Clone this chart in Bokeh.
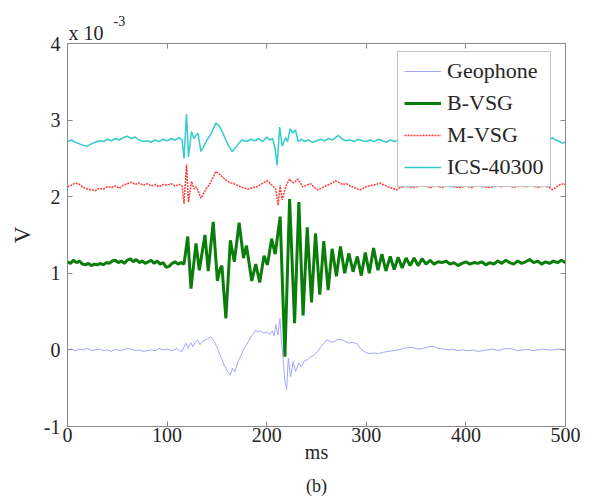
from bokeh.plotting import figure
from bokeh.models import Range1d, LinearAxis, FixedTicker, Legend, LegendItem, Title
from bokeh.embed import file_html
from bokeh.resources import INLINE

# ---- data (ms, V x 1e-3) ----
geo_t = [0, 4, 8, 12, 16, 20, 24, 28, 32, 36, 40, 44, 48, 52, 56, 60, 64, 68, 72, 76, 80, 84, 88, 92, 96, 100,
         104, 107, 110, 112, 115, 117, 119, 121, 124, 126, 128, 130.7, 133, 136, 139, 142, 144, 147.3, 150, 152.3,
         155, 157.3, 160.7, 163.3, 165.7, 168, 170.7, 174, 177.3, 180, 184, 186.5, 189, 191, 194, 197, 200.7, 203,
         205.7, 207.5, 209, 211.3, 213.3, 214.7, 216.7, 218, 220, 221.7, 224, 226.7, 229, 232.3, 235, 238, 240.7,
         244, 247.3, 251, 254, 257, 260.3, 264, 267.3, 271, 275.7, 279, 282.3, 286, 290.7, 294, 299, 303, 307.3,
         312, 317.3, 322, 327.3, 332, 337.3, 342, 347.3, 352, 357.3, 362, 367.3, 372, 377.3, 382, 387.3, 392,
         397.3, 402, 407.3, 412, 417.3, 422, 427.3, 432, 437.3, 442, 447.3, 452, 457.3, 462, 467.3, 472, 477.3,
         482, 487.3, 492, 497.3, 500]
geo_v = [0.00, 0.01, -0.01, 0.01, 0.00, 0.02, -0.01, 0.00, 0.01, -0.01, 0.00, -0.02, 0.01, -0.01, 0.00, 0.02,
         0.01, -0.01, 0.00, -0.02, -0.01, 0.00, -0.01, 0.02, 0.00, 0.01, -0.01, 0.00, 0.02, -0.01, -0.02, 0.04,
         0.09, 0.02, 0.09, 0.04, 0.10, 0.13, 0.07, 0.12, 0.13, 0.16, 0.17, 0.11, 0.04, -0.04, -0.12, -0.20, -0.28,
         -0.33, -0.24, -0.29, -0.17, -0.08, 0.02, 0.07, 0.17, 0.21, 0.26, 0.23, 0.25, 0.22, 0.23, 0.20, 0.25, 0.18,
         0.33, 0.20, 0.41, 0.13, -0.13, -0.39, -0.52, -0.11, -0.35, -0.15, -0.28, -0.17, -0.22, -0.14, -0.13,
         -0.09, -0.07, -0.02, 0.03, 0.08, 0.13, 0.11, 0.10, 0.14, 0.13, 0.11, 0.09, 0.10, 0.08, 0.02, -0.03,
         -0.05, -0.04, -0.05, -0.03, -0.02, -0.01, 0.00, 0.02, 0.03, 0.03, 0.01, 0.02, 0.04, 0.05, 0.02, 0.01,
         0.00, 0.01, -0.01, 0.00, -0.01, 0.00, -0.02, -0.01, 0.00, 0.01, -0.01, 0.01, 0.02, 0.01, -0.01, 0.00,
         0.01, -0.01, 0.00, 0.01, 0.00, 0.00, 0.01, 0.00, 0.00]

bvsg_t = [0, 3, 6, 9, 12, 15, 18, 21, 24, 27, 30, 33, 36, 39, 42, 45, 48, 51, 54, 57, 60, 63, 66, 69, 72, 75,
          78, 81, 84, 87, 90, 93, 96, 99, 102, 105, 108, 111, 114, 117, 120.7, 124, 129, 132.3, 138, 141.3, 146.3,
          150.5, 153, 155, 159, 163.5, 167.5, 172.3, 176.7, 179.7, 185, 189, 193, 197.3, 200.7, 205, 208.5, 213.5,
          218.3, 223, 228, 232.3, 236.5, 240.7, 245, 249, 253.3, 257.3, 261.7, 265.7, 270, 274, 278.3, 282.5,
          286.7, 291, 295, 299, 303, 307.3, 311.7, 315.7, 319.7, 324, 328, 332, 336, 340, 344, 348, 352, 356,
          360, 364, 368, 372, 376, 380, 384, 388, 392, 396, 400, 404, 408, 412, 416, 420, 424, 428, 432, 436,
          440, 444, 448, 452, 456, 460, 464, 468, 472, 476, 480, 484, 488, 492, 496, 500]
bvsg_v = [1.15, 1.13, 1.17, 1.14, 1.16, 1.12, 1.11, 1.13, 1.10, 1.12, 1.11, 1.13, 1.11, 1.14, 1.13, 1.16, 1.17,
          1.14, 1.16, 1.13, 1.17, 1.19, 1.15, 1.18, 1.14, 1.16, 1.13, 1.15, 1.17, 1.13, 1.16, 1.12, 1.14, 1.08,
          1.09, 1.13, 1.15, 1.12, 1.14, 1.12, 1.48, 0.80, 1.39, 1.04, 1.50, 1.03, 1.67, 0.90, 1.05, 1.10, 0.41,
          1.43, 1.15, 1.66, 1.20, 1.36, 0.90, 1.12, 0.88, 1.23, 1.11, 1.45, 1.25, 1.74, -0.09, 1.97, 0.35, 1.93,
          0.45, 1.60, 0.62, 1.52, 0.72, 1.42, 0.78, 1.32, 0.96, 1.35, 1.00, 1.26, 1.02, 1.22, 0.97, 1.27, 1.00,
          1.33, 1.04, 1.25, 1.03, 1.22, 1.05, 1.21, 1.07, 1.20, 1.10, 1.20, 1.10, 1.19, 1.12, 1.17, 1.12, 1.15,
          1.14, 1.16, 1.12, 1.14, 1.10, 1.13, 1.15, 1.12, 1.14, 1.13, 1.15, 1.11, 1.14, 1.12, 1.16, 1.13, 1.17,
          1.14, 1.12, 1.16, 1.13, 1.15, 1.18, 1.14, 1.16, 1.12, 1.15, 1.13, 1.16, 1.14, 1.17, 1.14]

mvsg_t = [0, 4, 8, 12, 16, 20, 24, 28, 32, 36, 40, 44, 48, 52, 56, 60, 64, 68, 72, 76, 80, 84, 88, 92, 96, 100,
          104, 108, 112, 115, 117, 119.5, 121.5, 124.5, 127, 129, 131, 134, 136.5, 139, 142, 145, 149, 152, 154,
          157, 160.5, 164, 167, 170, 174, 178, 182, 186, 190, 194, 198, 200, 203, 206, 209, 211.5, 213.5, 215.5,
          218, 220, 223, 225, 227, 229, 231, 234, 236, 240, 244, 248, 251, 255, 259, 263, 266, 269, 272, 276, 280,
          284, 288, 291, 294, 298, 302, 306, 310, 314, 318, 322, 326, 330.7, 334, 340, 346, 352, 358, 364, 370,
          376, 382, 388, 394, 400, 406, 412, 418, 424, 430, 436, 442, 448, 454, 460, 466, 472, 478, 484, 487, 491,
          495, 498, 500]
mvsg_v = [2.13, 2.15, 2.18, 2.16, 2.12, 2.10, 2.09, 2.08, 2.11, 2.10, 2.13, 2.12, 2.14, 2.11, 2.15, 2.17, 2.19,
          2.16, 2.18, 2.15, 2.17, 2.14, 2.16, 2.13, 2.16, 2.15, 2.17, 2.14, 2.16, 2.14, 1.91, 2.42, 1.93, 2.20,
          2.10, 2.13, 2.08, 1.98, 2.04, 2.10, 2.15, 2.22, 2.33, 2.30, 2.28, 2.24, 2.20, 2.18, 2.17, 2.15, 2.13,
          2.11, 2.10, 2.12, 2.13, 2.16, 2.19, 2.21, 2.18, 2.14, 2.10, 1.89, 2.15, 1.96, 2.08, 2.16, 2.23, 2.20,
          2.18, 2.20, 2.23, 2.18, 2.13, 2.15, 2.17, 2.12, 2.09, 2.11, 2.14, 2.16, 2.18, 2.21, 2.19, 2.16, 2.17,
          2.14, 2.12, 2.10, 2.09, 2.12, 2.14, 2.15, 2.16, 2.18, 2.15, 2.13, 2.11, 2.09, 2.12, 2.14, 2.12, 2.13,
          2.15, 2.12, 2.14, 2.12, 2.15, 2.13, 2.12, 2.14, 2.12, 2.15, 2.13, 2.12, 2.14, 2.13, 2.15, 2.12, 2.14,
          2.13, 2.15, 2.12, 2.14, 2.12, 2.09, 2.13, 2.16, 2.17, 2.16]

ics_t = [0, 4, 8, 12, 16, 20, 24, 28, 32, 36, 40, 44, 48, 52, 56, 60, 64, 68, 72, 76, 80, 84, 88, 92, 96, 100,
         104, 108, 112, 115, 117, 119.5, 121.5, 124.5, 127, 129, 131, 134, 137, 140, 144, 149, 152, 155, 159, 162,
         165.5, 168, 171, 175, 180, 184, 188, 192, 196, 200, 203, 206, 208.5, 210.5, 213, 215.5, 219, 221, 223.5,
         226, 229, 231.5, 235, 238, 242, 246, 250, 254, 258, 262, 266, 270, 272, 276, 280, 284, 288, 292, 296,
         300, 304, 308, 312, 316, 320, 324, 328, 332, 340, 350, 360, 370, 380, 390, 400, 410, 420, 430, 440, 450,
         460, 470, 480, 484, 487, 490, 494, 497, 500]
ics_v = [2.72, 2.74, 2.71, 2.69, 2.67, 2.66, 2.69, 2.71, 2.73, 2.72, 2.75, 2.73, 2.76, 2.74, 2.77, 2.79, 2.76,
         2.78, 2.74, 2.72, 2.73, 2.71, 2.74, 2.72, 2.75, 2.73, 2.76, 2.74, 2.77, 2.74, 2.50, 3.08, 2.52, 2.85,
         2.76, 2.80, 2.83, 2.59, 2.66, 2.74, 2.82, 2.96, 2.93, 2.86, 2.74, 2.66, 2.59, 2.63, 2.68, 2.74, 2.72,
         2.75, 2.73, 2.76, 2.72, 2.78, 2.74, 2.76, 2.62, 2.41, 2.91, 2.66, 2.77, 2.72, 2.89, 2.83, 2.87, 2.72,
         2.75, 2.72, 2.74, 2.71, 2.73, 2.75, 2.73, 2.76, 2.74, 2.78, 2.80, 2.75, 2.73, 2.74, 2.72, 2.75, 2.73,
         2.72, 2.74, 2.72, 2.75, 2.73, 2.71, 2.74, 2.72, 2.74, 2.73, 2.75, 2.72, 2.74, 2.73, 2.75, 2.72, 2.74,
         2.73, 2.75, 2.72, 2.74, 2.73, 2.74, 2.73, 2.74, 2.77, 2.74, 2.72, 2.70, 2.71]

series_names = ["Geophone", "B-VSG", "M-VSG", "ICS-40300"]
x_ticks = [0, 100, 200, 300, 400, 500]
y_ticks = [-1, 0, 1, 2, 3, 4]

FONT = "Liberation Serif"
GRAY = "#8a8a8a"
TXT = "#262626"

p = figure(frame_width=498, frame_height=383, output_backend="svg", toolbar_location=None,
           x_range=Range1d(0, 500), y_range=Range1d(-1, 4),
           min_border_left=67, min_border_right=20, min_border_top=43, min_border_bottom=72)
p.outline_line_color = GRAY
p.grid.visible = False
p.background_fill_color = "white"
p.border_fill_color = "white"

for ax in (p.xaxis[0], p.yaxis[0]):
    ax.axis_line_color = GRAY
    ax.major_tick_line_color = GRAY
    ax.major_tick_in = 5
    ax.major_tick_out = 0
    ax.minor_tick_line_color = None
    ax.major_label_text_font = FONT
    ax.major_label_text_font_size = "20px"
    ax.major_label_text_color = TXT
    ax.axis_label_text_font = FONT
    ax.axis_label_text_font_style = "normal"
    ax.axis_label_text_color = TXT

p.xaxis.ticker = FixedTicker(ticks=x_ticks)
p.yaxis.ticker = FixedTicker(ticks=y_ticks)
p.yaxis.major_label_overrides = {-1: "-1"}
p.xaxis.major_label_standoff = 1
p.xaxis.axis_label = "ms"
p.xaxis.axis_label_text_font_size = "20px"
p.xaxis.axis_label_standoff = -4
p.yaxis.axis_label = "V"
p.yaxis.axis_label_text_font_size = "23px"
p.yaxis.major_label_standoff = 7
p.yaxis.axis_label_standoff = 6

for loc, tks in (("right", y_ticks), ("above", x_ticks)):
    ax = LinearAxis(ticker=FixedTicker(ticks=tks), major_label_text_font_size="0px",
                    axis_line_color=GRAY, major_tick_line_color=GRAY, major_tick_in=5,
                    major_tick_out=0, minor_tick_line_color=None, major_label_standoff=0)
    p.add_layout(ax, loc)

r_geo = p.line(geo_t, geo_v, line_color="#a5a5ff", line_width=1)
r_b = p.line(bvsg_t, bvsg_v, line_color="#0a7d0a", line_width=3)
r_m = p.line(mvsg_t, mvsg_v, line_color="#ff3b3b", line_width=1.5, line_dash="2 1")
r_i = p.line(ics_t, ics_v, line_color="#33cccc", line_width=1.5)

legend = Legend(items=[LegendItem(label=n, renderers=[r]) for n, r in
                       zip(series_names, [r_geo, r_b, r_m, r_i])],
                location=(330, 239), padding=6, spacing=6,
                label_text_font=FONT, label_text_font_size="22px", label_text_color=TXT,
                glyph_width=37, glyph_height=26, label_height=26, label_standoff=6,
                border_line_color=GRAY, background_fill_alpha=1.0)
p.add_layout(legend, "center")

p.add_layout(Title(text="x 10", align="left", offset=1, standoff=0, text_font=FONT,
                   text_font_size="20px", text_font_style="normal", text_color=TXT), "above")
p.add_layout(Title(text="-3", align="left", offset=46, standoff=-13, text_font=FONT,
                   text_font_size="14px", text_font_style="normal", text_color=TXT), "above")
p.add_layout(Title(text="(b)", align="center", standoff=16, text_font=FONT,
                   text_font_size="18px", text_font_style="normal", text_color=TXT), "below")

open("out.html", "w").write(file_html(p, INLINE))
